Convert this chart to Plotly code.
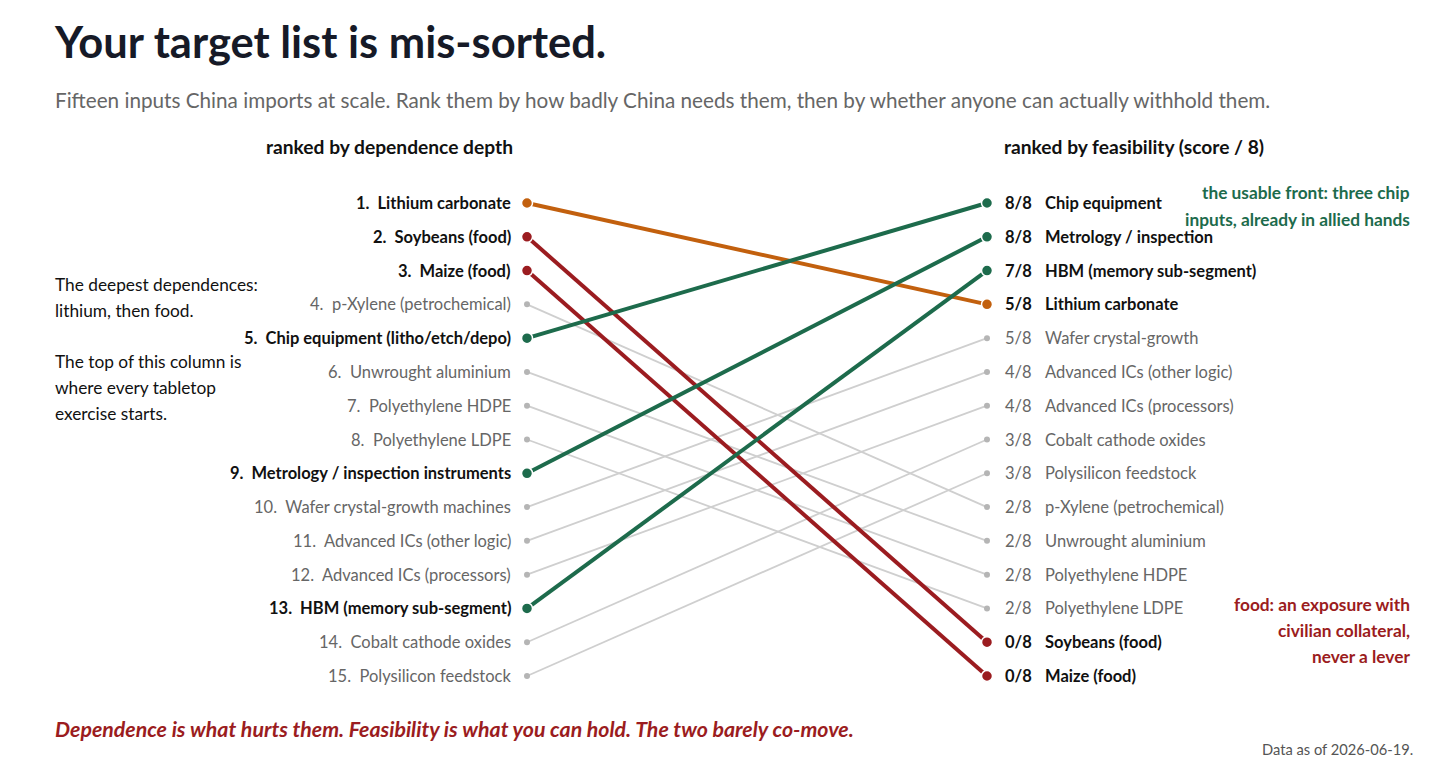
import plotly.graph_objects as go

# ---------------- data ----------------
dep_rank = list(range(1, 16))
dep_labels = [
    "Lithium carbonate", "Soybeans (food)", "Maize (food)", "p-Xylene (petrochemical)",
    "Chip equipment (litho/etch/depo)", "Unwrought aluminium", "Polyethylene HDPE",
    "Polyethylene LDPE", "Metrology / inspection instruments", "Wafer crystal-growth machines",
    "Advanced ICs (other logic)", "Advanced ICs (processors)", "HBM (memory sub-segment)",
    "Cobalt cathode oxides", "Polysilicon feedstock",
]
feas_labels = [
    "Lithium carbonate", "Soybeans (food)", "Maize (food)", "p-Xylene (petrochemical)",
    "Chip equipment", "Unwrought aluminium", "Polyethylene HDPE", "Polyethylene LDPE",
    "Metrology / inspection", "Wafer crystal-growth", "Advanced ICs (other logic)",
    "Advanced ICs (processors)", "HBM (memory sub-segment)", "Cobalt cathode oxides",
    "Polysilicon feedstock",
]
feas_rank = [4, 14, 15, 10, 1, 11, 12, 13, 2, 5, 6, 7, 3, 8, 9]
feas_score = [5, 0, 0, 2, 8, 2, 2, 2, 8, 5, 4, 4, 7, 3, 3]
group = ["lithium", "food", "food", "other", "chip", "other", "other", "other",
         "chip", "other", "other", "other", "chip", "other", "other"]

# ---------------- styling ----------------
FONT = "Lato"
COL = {"lithium": "#c2600e", "food": "#9b1c20", "chip": "#1d6b4c", "other": "#cfcfcf"}
DOT_GREY = "#b5b5b5"
TEXT_DARK = "#111111"
TEXT_GREY = "#666666"

W, H = 1456, 764
X_LEFT_PX, X_RIGHT_PX = 527, 987
Y_TOP_PX, Y_BOT_PX = 203, 676
xs = (X_RIGHT_PX - X_LEFT_PX)
x_range = [-X_LEFT_PX / xs, (W - X_LEFT_PX) / xs]
ys = (Y_BOT_PX - Y_TOP_PX) / 14
y_range = [15 + (H - Y_BOT_PX) / ys, 1 - Y_TOP_PX / ys]

LBL = 16.5

fig = go.Figure()

order = [i for i in range(15) if group[i] == "other"] + [i for i in range(15) if group[i] != "other"]
for i in order:
    g = group[i]
    hi = g != "other"
    fig.add_trace(go.Scatter(
        x=[0, 1], y=[dep_rank[i], feas_rank[i]], mode="lines+markers",
        line=dict(color=COL[g], width=4 if hi else 1.8),
        marker=dict(size=11 if hi else 6, color=COL[g] if hi else DOT_GREY,
                    line=dict(color="white", width=1.5 if hi else 0)),
        hoverinfo="skip", showlegend=False,
    ))

anns = []
for i in range(15):
    hi = group[i] != "other"
    txt = f"{dep_rank[i]}.  {dep_labels[i]}"
    if hi:
        txt = f"<b>{txt}</b>"
    anns.append(dict(x=0, y=dep_rank[i], xref="x", yref="y", text=txt, showarrow=False,
                     xanchor="right", yanchor="middle", xshift=-14,
                     font=dict(family=FONT, size=LBL, color=TEXT_DARK if hi else TEXT_GREY)))
    s = f"{feas_score[i]}/8"
    n = feas_labels[i]
    if hi:
        s, n = f"<b>{s}</b>", f"<b>{n}</b>"
    c = TEXT_DARK if hi else TEXT_GREY
    anns.append(dict(x=1, y=feas_rank[i], xref="x", yref="y", text=s, showarrow=False,
                     xanchor="left", yanchor="middle", xshift=16,
                     font=dict(family=FONT, size=LBL, color=c)))
    anns.append(dict(x=1, y=feas_rank[i], xref="x", yref="y", text=n, showarrow=False,
                     xanchor="left", yanchor="middle", xshift=56,
                     font=dict(family=FONT, size=LBL, color=c)))

def P(px, py):
    return px / W, 1 - py / H

def add_text(px, py, text, size, color, xanchor="left", bold=False, italic=False):
    x, y = P(px, py)
    if bold:
        text = f"<b>{text}</b>"
    if italic:
        text = f"<i>{text}</i>"
    anns.append(dict(x=x, y=y, xref="paper", yref="paper", text=text, showarrow=False,
                     xanchor=xanchor, yanchor="middle", align=xanchor,
                     font=dict(family=FONT, size=size, color=color)))

add_text(52, 41, "Your target list is mis-sorted.", 43.5, "#161a27", bold=True)
add_text(53, 100, "Fifteen inputs China imports at scale. Rank them by how badly China needs them, then by whether anyone can actually withhold them.", 20.7, TEXT_GREY)
add_text(515, 146, "ranked by dependence depth", 19.2, TEXT_DARK, xanchor="right", bold=True)
add_text(1002, 146, "ranked by feasibility (score / 8)", 19.2, TEXT_DARK, bold=True)

for py, t in [(284, "The deepest dependences:"), (310, "lithium, then food."),
              (361, "The top of this column is"), (387, "where every tabletop"),
              (413, "exercise starts.")]:
    add_text(53, py, t, 17.3, TEXT_DARK)

for py, t in [(193, "the usable front: three chip"), (219, "inputs, already in allied hands")]:
    add_text(1412, py, t, 17.3, COL["chip"], xanchor="right", bold=True)
for py, t in [(604, "food: an exposure with"), (630, "civilian collateral,"), (656, "never a lever")]:
    add_text(1412, py, t, 17.3, COL["food"], xanchor="right", bold=True)

add_text(53, 729, "Dependence is what hurts them. Feasibility is what you can hold. The two barely co-move.",
         21.3, COL["food"], bold=True, italic=True)
add_text(1415, 749, "Data as of 2026-06-19.", 14.7, "#555555", xanchor="right")

fig.update_layout(
    width=W, height=H, margin=dict(l=0, r=0, t=0, b=0),
    paper_bgcolor="white", plot_bgcolor="white",
    xaxis=dict(range=x_range, visible=False, fixedrange=True),
    yaxis=dict(range=y_range, visible=False, fixedrange=True),
    annotations=anns, showlegend=False, font=dict(family=FONT),
)
fig.write_html("out.html", config={"displayModeBar": False})
